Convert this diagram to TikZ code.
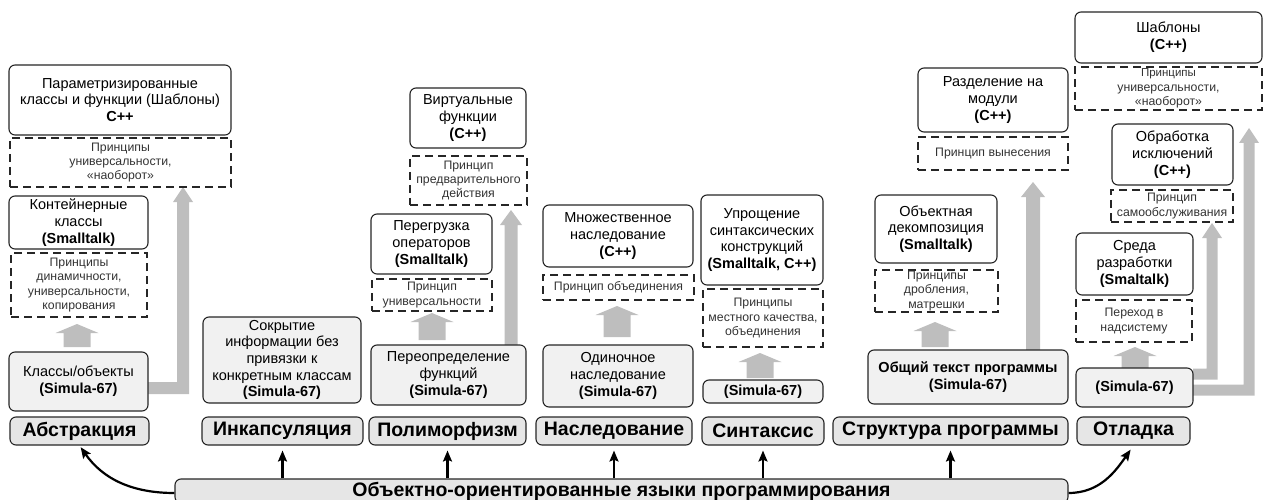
\documentclass[tikz,border=0pt]{standalone}
\usepackage{fontspec}
\setmainfont{Liberation Sans}
\usetikzlibrary{arrows.meta}

\definecolor{edge}{HTML}{262626}
\definecolor{lowfill}{HTML}{F1F1F1}
\definecolor{catfill}{HTML}{E6E6E6}
\definecolor{flow}{HTML}{BEBEBE}
\definecolor{note}{HTML}{333333}

% box given by its corners: style, name, x1, y1, x2, y2, text
\newcommand\panel[7]{%
  \node[#1, minimum width={(#5-#3)*1pt}, minimum height={(#6-#4)*1pt}]
    (#2) at ({(#3+#5)/2},{(#4+#6)/2}) {#7};}

% straight grey block arrow: centre x, tip y, base y, shaft width, head width, head length
\newcommand\liftup[6]{%
  \fill[flow] ({#1-#4/2},#3) -- ({#1-#4/2},{#2+#6}) -- ({#1-#5/2},{#2+#6}) -- (#1,#2)
    -- ({#1+#5/2},{#2+#6}) -- ({#1+#4/2},{#2+#6}) -- ({#1+#4/2},#3) -- cycle;}

% L-shaped grey block arrow: start x, horizontal y, shaft x, tip y, width, head width, head length
\newcommand\liftL[7]{%
  \fill[flow] (#1,{#2-#5/2}) -- ({#3-#5/2},{#2-#5/2}) -- ({#3-#5/2},{#4+#7})
    -- ({#3-#6/2},{#4+#7}) -- (#3,#4) -- ({#3+#6/2},{#4+#7}) -- ({#3+#5/2},{#4+#7})
    -- ({#3+#5/2},{#2+#5/2}) -- (#1,{#2+#5/2}) -- cycle;}

\tikzset{
  every node/.style={inner sep=0pt, align=center},
  topic/.style={draw=edge, line width=1.1pt, rounded corners=6pt, fill=white,
    text=black, font=\fontsize{14.5}{16.7}\selectfont},
  base/.style={topic, fill=lowfill},
  hint/.style={draw=edge, line width=1.1pt, dash pattern=on 8pt off 5pt,
    text=note, font=\fontsize{12.3}{14.3}\selectfont},
  category/.style={draw=edge, line width=1.1pt, rounded corners=6pt, fill=catfill,
    font=\fontsize{19.5}{21}\selectfont\bfseries},
  link/.style={draw=black, line width=2.2pt, shorten >=5pt,
    -{Stealth[length=11pt,width=9pt,inset=2pt]}},
}

\begin{document}
\begin{tikzpicture}[x=1pt, y=-1pt]
\useasboundingbox (0,0) rectangle (1264,500);

% ---------- Абстракция ----------
\liftup{77}{324}{347}{27}{43}{9}
\liftL{148}{388}{183}{187}{12}{20}{15}
\panel{topic}{absT}{9}{65}{231}{135}{Параметризированные\\классы и функции (Шаблоны)\\\textbf{C++}}
\panel{hint}{absD2}{10}{138}{231}{187}{Принципы\\универсальности,\\«наоборот»}
\panel{topic}{absM}{9}{196}{148}{249}{Контейнерные\\классы\\\textbf{(Smalltalk)}}
\panel{hint}{absD1}{11}{253}{147}{317}{Принципы\\динамичности,\\универсальности,\\копирования}
\panel{base}{absS}{9}{352}{148}{411}{Классы/объекты\\\textbf{(Simula-67)}}
\panel{category}{absC}{10}{417}{149}{445}{Абстракция}

% ---------- Инкапсуляция ----------
\panel{base}{incS}{203}{317}{361}{403}{Сокрытие\\информации без\\привязки к\\конкретным классам\\\textbf{(Simula-67)}}
\panel{category}{incC}{202}{417}{363}{445}{Инкапсуляция}

% ---------- Полиморфизм ----------
\liftup{432}{313}{340}{27}{43}{9}
\liftup{511}{210}{345}{13}{22}{15}
\panel{topic}{polT}{410}{88}{526}{148}{Виртуальные\\функции\\\textbf{(C++)}}
\panel{hint}{polD2}{410}{156}{527}{205}{Принцип\\предварительного\\действия}
\panel{topic}{polM}{371}{214}{492}{274}{Перегрузка\\операторов\\\textbf{(Smalltalk)}}
\panel{hint}{polD1}{372}{279}{492}{311}{Принцип\\универсальности}
\panel{base}{polS}{371}{345}{526}{405}{Переопределение\\функций\\\textbf{(Simula-67)}}
\panel{category}{polC}{369}{417}{526}{445}{Полиморфизм}

% ---------- Наследование ----------
\liftup{617}{306}{337}{27}{43}{9}
\panel{topic}{inhT}{543}{205}{693}{267}{Множественное\\наследование\\\textbf{(C++)}}
\panel{hint}{inhD}{543}{275}{694}{300}{Принцип объединения}
\panel{base}{inhS}{543}{345}{693}{407}{Одиночное\\наследование\\\textbf{(Simula-67)}}
\panel{category}{inhC}{536}{417}{692}{445}{Наследование}

% ---------- Синтаксис ----------
\liftup{760}{353}{378}{27}{43}{9}
\panel{topic}{synT}{701}{195}{823}{285}{Упрощение\\синтаксических\\конструкций\\\textbf{(Smalltalk, C++)}}
\panel{hint}{synD}{703}{289}{823}{347}{Принципы\\местного качества,\\объединения}
\panel{base}{synS}{703}{380}{823}{403}{\textbf{(Simula-67)}}
\panel{category}{synC}{702}{417}{824}{445}{Синтаксис}

% ---------- Структура программы ----------
\liftup{935}{322}{347}{27}{43}{9}
\liftup{1033}{182}{350}{14}{24}{15}
\panel{topic}{strT}{918}{68}{1068}{132}{Разделение на\\модули\\\textbf{(C++)}}
\panel{hint}{strD2}{918}{137}{1068}{170}{Принцип вынесения}
\panel{topic}{strM}{875}{195}{997}{263}{Объектная\\декомпозиция\\\textbf{(Smalltalk)}}
\panel{hint}{strD1}{875}{270}{998}{312}{Принципы\\дробления,\\матрешки}
\panel{base}{strS}{868}{350}{1068}{404}{\textbf{Общий текст программы}\\\textbf{(Simula-67)}}
\panel{category}{strC}{833}{417}{1068}{445}{Структура программы}

% ---------- Отладка ----------
\liftup{1135}{347}{368}{27}{43}{9}
\liftL{1193}{374}{1212}{223}{11}{20}{15}
\liftL{1193}{390}{1249}{128}{11}{20}{15}
\panel{topic}{dbgT}{1075}{12}{1262}{63}{Шаблоны\\\textbf{(C++)}}
\panel{hint}{dbgD3}{1075}{67}{1262}{110}{\fontsize{11.5}{12.3}\selectfont Принципы\\универсальности,\\«наоборот»}
\panel{topic}{dbgM2}{1112}{124}{1233}{185}{Обработка\\исключений\\\textbf{(C++)}}
\panel{hint}{dbgD2}{1111}{190}{1233}{222}{Принцип\\самообслуживания}
\panel{topic}{dbgM}{1076}{233}{1193}{295}{Среда\\разработки\\\textbf{(Smaltalk)}}
\panel{hint}{dbgD1}{1076}{300}{1192}{342}{Переход в\\надсистему}
\panel{base}{dbgS}{1076}{368}{1193}{407}{\textbf{(Simula-67)}}
\panel{category}{dbgC}{1077}{417}{1190}{445}{Отладка}

% ---------- общая основа ----------
\panel{category}{bar}{175}{479}{1068}{503}{Объектно-ориентированные языки программирования}

\draw[link] (bar.north -| incC.south) -- (incC.south);
\draw[link] (bar.north -| polC.south) -- (polC.south);
\draw[link] (bar.north -| inhC.south) -- (inhC.south);
\draw[link] (bar.north -| synC.south) -- (synC.south);
\draw[link] (bar.north -| strC.south) -- (strC.south);
\draw[link, shorten >=2pt] ([yshift=-2pt]bar.west) to[out=180, in=-55] (absC.south);
\draw[link] ([yshift=-2pt]bar.east) to[out=0, in=-125] (dbgC.south);
\end{tikzpicture}
\end{document}
